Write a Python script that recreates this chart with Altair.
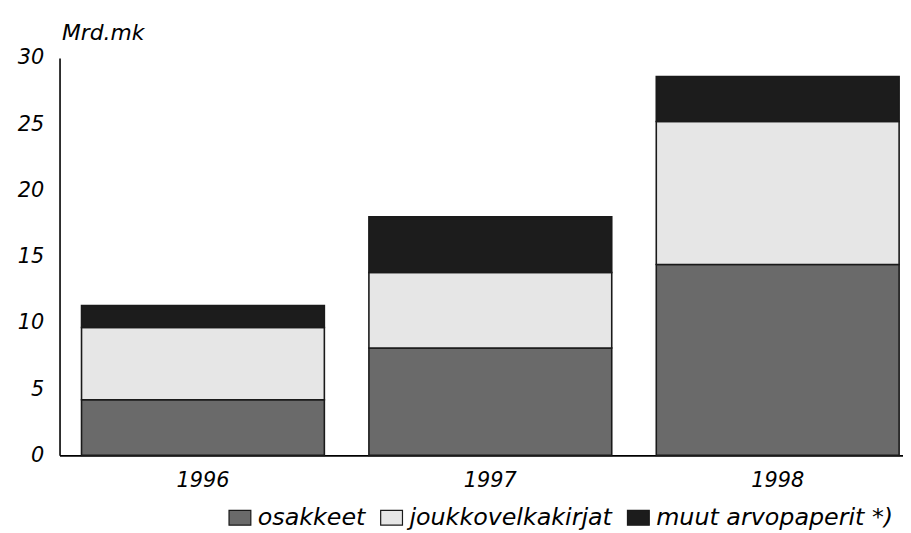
import altair as alt
import pandas as pd

years = ["1996", "1997", "1998"]
series = ["osakkeet", "joukkovelkakirjat", "muut arvopaperit *)"]
osakkeet = [4.2, 8.1, 14.4]
joukkovelkakirjat = [5.45, 5.7, 10.8]
muut = [1.65, 4.2, 3.4]
y_ticks = [0, 5, 10, 15, 20, 25, 30]

rows = []
for i, y in enumerate(years):
    for k, (name, vals) in enumerate(zip(series, [osakkeet, joukkovelkakirjat, muut])):
        rows.append({"year": y, "series": name, "value": vals[i], "order": k})
df = pd.DataFrame(rows)

FONT = "DejaVu Sans"

chart = alt.Chart(df).mark_bar(stroke="#1a1a1a", strokeWidth=1.6).encode(
    x=alt.X("year:N", sort=years,
            scale=alt.Scale(paddingInner=0.155, paddingOuter=0.045, align=0.85),
            axis=alt.Axis(title=None, labelAngle=0, ticks=False, labelPadding=14,
                          labelFontSize=21, labelFont=FONT, labelFontStyle="italic",
                          labelColor="black", domainColor="black", domainWidth=1.6)),
    y=alt.Y("value:Q", stack="zero",
            scale=alt.Scale(domain=[0, 30], nice=False),
            axis=alt.Axis(values=y_ticks, grid=False, ticks=False, labelPadding=16,
                          labelFontSize=21, labelFont=FONT, labelFontStyle="italic",
                          labelColor="black", domainColor="black", domainWidth=1.6,
                          title="Mrd.mk", titleAngle=0, titleX=2, titleY=-19,
                          titleAlign="left", titleBaseline="alphabetic",
                          titleFont=FONT, titleFontStyle="italic", titleFontWeight="normal",
                          titleFontSize=22, titleColor="black")),
    color=alt.Color("series:N", sort=series,
                    scale=alt.Scale(domain=series, range=["#6a6a6a", "#e6e6e6", "#1c1c1c"]),
                    legend=alt.Legend(title=None, orient="none", direction="horizontal",
                                      legendX=170, legendY=452,
                                      symbolType="M-1,-0.68L1,-0.68L1,0.68L-1,0.68Z",
                                      symbolSize=484, symbolStrokeColor="#1a1a1a",
                                      symbolStrokeWidth=1.2, labelFontSize=24, labelFont=FONT,
                                      labelFontStyle="italic", labelColor="black",
                                      labelLimit=400, columnPadding=12, symbolOffset=0,
                                      labelOffset=6)),
    order=alt.Order("order:Q"),
).properties(
    width=851, height=401,
    background="white",
    autosize=alt.AutoSizeParams(type="none"),
    padding={"left": 52, "top": 48, "right": 0, "bottom": 76},
).configure_view(stroke=None).configure_axis(
    labelFontStyle="italic", labelFont=FONT
)

chart.save("out.html", embed_options={"renderer": "svg", "actions": False})
